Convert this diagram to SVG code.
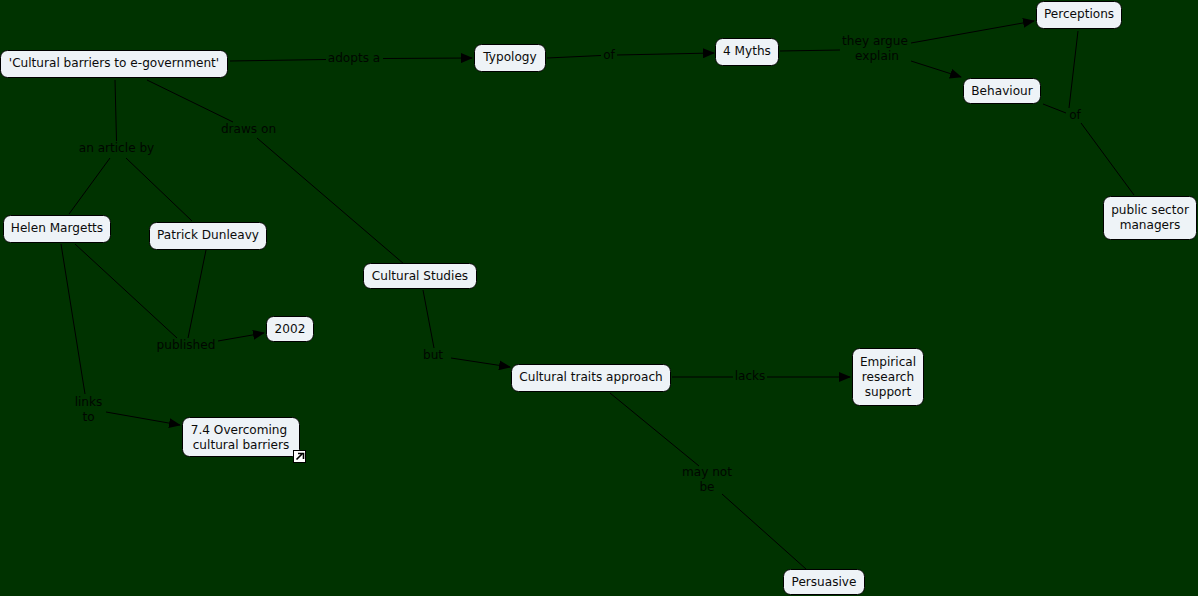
<svg xmlns="http://www.w3.org/2000/svg" width="1198" height="596" viewBox="0 0 1198 596">
<style>
.n{fill:#eef3f7;stroke:#000;stroke-width:1}
text{font-family:"DejaVu Sans",Verdana,sans-serif;font-size:12.100px;text-anchor:middle}
.t{fill:#0b0b0b}
.l{fill:#000;opacity:.85}
.c{fill:none;stroke:#000;stroke-width:1}
.a{fill:none;stroke:#000;stroke-width:1;marker-end:url(#ah)}
</style>
<defs><marker id="ah" markerUnits="userSpaceOnUse" markerWidth="12" markerHeight="10" refX="11" refY="5" orient="auto"><path d="M0 0L12 5L0 10Z" fill="#000"/></marker></defs>
<rect width="1198" height="596" fill="#003300"/>
<g id="connectors">
<path class="c" d="M230 61L326 59.500"/><path class="a" d="M383 58.500L472 58"/>
<path class="c" d="M547 58L601 55.500"/><path class="a" d="M617 55L714 53"/>
<path class="c" d="M780 51L840 50"/><path class="a" d="M911 43L1034 21"/><path class="a" d="M911 61L961 77"/>
<path class="c" d="M1078 31L1069 108"/><path class="c" d="M1043 104L1066 113"/><path class="c" d="M1081 123L1134 195"/>
<path class="c" d="M115 80L116.500 141"/><path class="c" d="M110 158L69 214"/><path class="c" d="M126 158L192 221"/>
<path class="c" d="M147 80L233 122"/><path class="c" d="M257 138L404 264"/>
<path class="c" d="M75 244L177 338"/><path class="c" d="M206 250L188 338"/><path class="a" d="M218 341L264 333"/>
<path class="c" d="M61 244L85 394"/><path class="a" d="M106 412L180 425"/>
<path class="c" d="M423 290L434 348"/><path class="a" d="M451 358L510 367"/>
<path class="c" d="M672 377L733 377"/><path class="a" d="M767 377L850 377"/>
<path class="c" d="M610 393L699 466"/><path class="c" d="M722 494L806 569"/>
</g>
<g id="labels">
<text class="l" x="354" y="62">adopts a</text><text class="l" x="609" y="59">of</text>
<text class="l" x="875" y="45">they argue</text><text class="l" x="877" y="60">explain</text>
<text class="l" x="1075" y="119">of</text><text class="l" x="116.500" y="152">an article by</text>
<text class="l" x="248.500" y="133">draws on</text><text class="l" x="186" y="349">published</text>
<text class="l" x="88.500" y="406">links</text><text class="l" x="88.500" y="421">to</text>
<text class="l" x="433" y="359">but</text><text class="l" x="750" y="380">lacks</text>
<text class="l" x="707" y="476">may not</text><text class="l" x="707" y="491">be</text>
</g>
<g id="n1"><rect class="n" x="0.500" y="50.500" width="227" height="27" rx="7"/><text class="t" x="114" y="67">'Cultural barriers to e-government'</text></g>
<g id="n2"><rect class="n" x="474.500" y="44.500" width="71" height="27" rx="7"/><text class="t" x="510" y="61">Typology</text></g>
<g id="n3"><rect class="n" x="715.500" y="38.500" width="63" height="27" rx="7"/><text class="t" x="747" y="55">4 Myths</text></g>
<g id="n4"><rect class="n" x="1036.500" y="1.500" width="85" height="27" rx="7"/><text class="t" x="1079" y="18">Perceptions</text></g>
<g id="n5"><rect class="n" x="963.500" y="78.500" width="77" height="25" rx="7"/><text class="t" x="1002" y="95">Behaviour</text></g>
<g id="n6"><rect class="n" x="1103.500" y="196.500" width="93" height="43" rx="7"/><text class="t" x="1150" y="214">public sector</text><text class="t" x="1150" y="229">managers</text></g>
<g id="n7"><rect class="n" x="3.500" y="215.500" width="107" height="27" rx="7"/><text class="t" x="57" y="232">Helen Margetts</text></g>
<g id="n8"><rect class="n" x="149.500" y="222.500" width="117" height="27" rx="7"/><text class="t" x="208" y="239">Patrick Dunleavy</text></g>
<g id="n9"><rect class="n" x="363.500" y="263.500" width="113" height="25" rx="7"/><text class="t" x="420" y="280">Cultural Studies</text></g>
<g id="n10"><rect class="n" x="266.500" y="316.500" width="47" height="25" rx="7"/><text class="t" x="290" y="333">2002</text></g>
<g id="n11"><rect class="n" x="182.500" y="417.500" width="117" height="39" rx="7"/><text class="t" x="239" y="434">7.4 Overcoming</text><text class="t" x="241" y="449">cultural barriers</text>
<rect x="293.500" y="450.500" width="12" height="12" fill="#fff" stroke="#000"/><path d="M296.500 459.500L302 454M298 453.500H303.500V459" fill="none" stroke="#000" stroke-width="1.600"/></g>
<g id="n12"><rect class="n" x="511.500" y="364.500" width="159" height="27" rx="7"/><text class="t" x="591" y="381">Cultural traits approach</text></g>
<g id="n13"><rect class="n" x="852.500" y="348.500" width="71" height="57" rx="7"/><text class="t" x="888" y="366">Empirical</text><text class="t" x="888" y="381">research</text><text class="t" x="888" y="396">support</text></g>
<g id="n14"><rect class="n" x="783.500" y="569.500" width="81" height="25" rx="7"/><text class="t" x="824" y="586">Persuasive</text></g>
</svg>
